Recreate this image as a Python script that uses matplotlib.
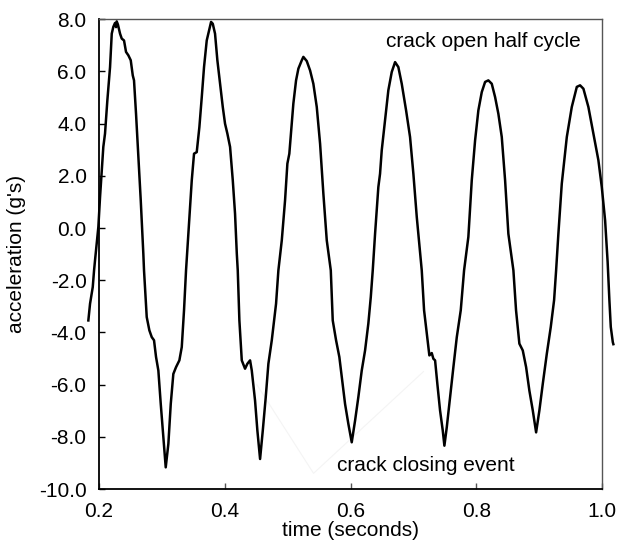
import matplotlib
matplotlib.use("Agg")
import matplotlib.pyplot as plt
from matplotlib.ticker import FormatStrFormatter

plt.rcParams['font.family'] = ['Liberation Sans', 'DejaVu Sans']
plt.rcParams['axes.unicode_minus'] = False

# Accelerometer record: time (s) and acceleration (g's)
time_s = [
    0.1830, 0.1857, 0.1900, 0.1921, 0.1936, 0.1989, 0.2016, 0.2068, 0.2095, 0.2132,
    0.2175, 0.2202, 0.2227, 0.2254, 0.2270, 0.2281, 0.2300, 0.2334, 0.2361, 0.2397,
    0.2429, 0.2466, 0.2504, 0.2536, 0.2556, 0.2588, 0.2625, 0.2663, 0.2704, 0.2715,
    0.2758, 0.2800, 0.2838, 0.2874, 0.2906, 0.2943, 0.2981, 0.3022, 0.3060, 0.3102,
    0.3140, 0.3181, 0.3224, 0.3277, 0.3315, 0.3351, 0.3383, 0.3420, 0.3474, 0.3510,
    0.3553, 0.3595, 0.3633, 0.3669, 0.3712, 0.3749, 0.3781, 0.3808, 0.3844, 0.3881,
    0.3924, 0.3967, 0.4003, 0.4040, 0.4083, 0.4126, 0.4162, 0.4190, 0.4205, 0.4231,
    0.4269, 0.4321, 0.4358, 0.4401, 0.4428, 0.4480, 0.4517, 0.4560, 0.4603, 0.4650,
    0.4692, 0.4746, 0.4782, 0.4814, 0.4851, 0.4905, 0.4957, 0.4994, 0.5025, 0.5064,
    0.5089, 0.5132, 0.5169, 0.5223, 0.5248, 0.5302, 0.5355, 0.5407, 0.5461, 0.5514,
    0.5566, 0.5620, 0.5684, 0.5715, 0.5768, 0.5820, 0.5859, 0.5911, 0.5963, 0.6017,
    0.6070, 0.6122, 0.6176, 0.6229, 0.6281, 0.6320, 0.6351, 0.6388, 0.6440, 0.6467,
    0.6494, 0.6547, 0.6599, 0.6653, 0.6706, 0.6758, 0.6812, 0.6881, 0.6944, 0.6997,
    0.7051, 0.7130, 0.7167, 0.7210, 0.7251, 0.7289, 0.7315, 0.7342, 0.7378, 0.7421,
    0.7464, 0.7490, 0.7528, 0.7580, 0.7633, 0.7687, 0.7750, 0.7803, 0.7871, 0.7925,
    0.7978, 0.8030, 0.8084, 0.8137, 0.8189, 0.8243, 0.8296, 0.8348, 0.8402, 0.8455,
    0.8507, 0.8587, 0.8629, 0.8682, 0.8736, 0.8789, 0.8841, 0.8895, 0.8948, 0.9000,
    0.9054, 0.9118, 0.9181, 0.9234, 0.9266, 0.9302, 0.9356, 0.9436, 0.9515, 0.9595,
    0.9647, 0.9700, 0.9779, 0.9859, 0.9938, 0.9992, 1.0045, 1.0085, 1.0113, 1.0135,
    1.0167, 1.0176,
]
accel_g = [
    -3.54, -2.90, -2.26, -1.62, -1.24, 0.04, 1.19, 3.11, 3.62, 4.89,
    6.17, 7.45, 7.71, 7.86, 7.70, 7.92, 7.80, 7.45, 7.26, 7.19,
    6.75, 6.62, 6.43, 5.85, 5.66, 4.38, 2.72, 1.06, -0.98, -1.62,
    -3.41, -3.92, -4.18, -4.30, -4.94, -5.46, -6.74, -8.02, -9.17, -8.27,
    -6.74, -5.59, -5.33, -5.07, -4.56, -3.15, -1.62, -0.22, 1.83, 2.85,
    2.91, 3.87, 5.02, 6.17, 7.19, 7.58, 7.90, 7.83, 7.45, 6.43,
    5.53, 4.64, 4.00, 3.62, 3.11, 1.83, 0.55, -0.98, -1.62, -3.54,
    -5.07, -5.39, -5.20, -5.07, -5.46, -6.61, -7.76, -8.85, -7.76, -6.48,
    -5.20, -4.30, -3.54, -2.90, -1.62, -0.47, 1.06, 2.47, 2.85, 4.00,
    4.77, 5.66, 6.11, 6.43, 6.56, 6.40, 6.04, 5.53, 4.64, 3.23,
    1.32, -0.47, -1.62, -3.54, -4.30, -4.94, -5.71, -6.74, -7.50, -8.21,
    -7.38, -6.48, -5.46, -4.69, -3.66, -2.64, -1.62, -0.22, 1.57, 2.08,
    2.98, 4.13, 5.28, 5.98, 6.36, 6.17, 5.53, 4.51, 3.49, 2.08,
    0.42, -1.62, -3.15, -4.05, -4.88, -4.79, -5.01, -5.07, -5.97, -6.99,
    -7.76, -8.34, -7.63, -6.48, -5.33, -4.18, -3.15, -1.62, -0.34, 1.83,
    3.36, 4.51, 5.21, 5.60, 5.66, 5.53, 5.02, 4.38, 3.49, 1.83,
    -0.22, -1.62, -3.15, -4.43, -4.69, -5.33, -6.23, -6.99, -7.83, -6.99,
    -5.97, -4.82, -3.79, -2.76, -1.62, -0.22, 1.70, 3.49, 4.64, 5.41,
    5.47, 5.34, 4.64, 3.62, 2.60, 1.57, 0.29, -1.30, -2.77, -3.79,
    -4.37, -4.45,
]

x_ticks = [0.2, 0.4, 0.6, 0.8, 1.0]
y_ticks = [8.0, 6.0, 4.0, 2.0, 0.0, -2.0, -4.0, -6.0, -8.0, -10.0]

fig = plt.figure(figsize=(6.19, 5.44), dpi=100)
ax = fig.add_axes([0.160, 0.1011, 0.813, 0.8634])

ax.plot(time_s, accel_g, color='black', lw=1.8, clip_on=False, zorder=3)

# faint pointer lines from the closing-event label
ax.plot([0.4508, 0.541, 0.7158], [-6.0, -9.4, -5.5], color='#f4f4f4', lw=0.8, zorder=1)

ax.set_xlim(0.2, 1.0)
ax.set_ylim(-10.0, 8.0)
ax.set_xticks(x_ticks)
ax.set_yticks(y_ticks)
ax.xaxis.set_major_formatter(FormatStrFormatter('%.1f'))
ax.yaxis.set_major_formatter(FormatStrFormatter('%.1f'))

ax.tick_params(axis='both', direction='in', length=4.5, width=1.0,
               labelsize=15, colors='black')
ax.tick_params(axis='x', pad=9, color='#555555')
ax.tick_params(axis='y', pad=9)

for side in ('top', 'right'):
    ax.spines[side].set_color('#555555')
    ax.spines[side].set_linewidth(1.0)
for side in ('left', 'bottom'):
    ax.spines[side].set_color('black')
    ax.spines[side].set_linewidth(1.3)

ax.set_xlabel('time (seconds)', fontsize=15)
ax.xaxis.set_label_coords(0.5, -0.068)
ax.set_ylabel("acceleration (g's)", fontsize=15)
ax.yaxis.set_label_coords(-0.165, 0.5)
ax.yaxis.label.set_va('center')

ax.text(0.656, 7.15, 'crack open half cycle', fontsize=15, ha='left', va='center')
ax.text(0.579, -9.10, 'crack closing event', fontsize=15, ha='left', va='center')

fig.savefig('out.png', dpi=100)
